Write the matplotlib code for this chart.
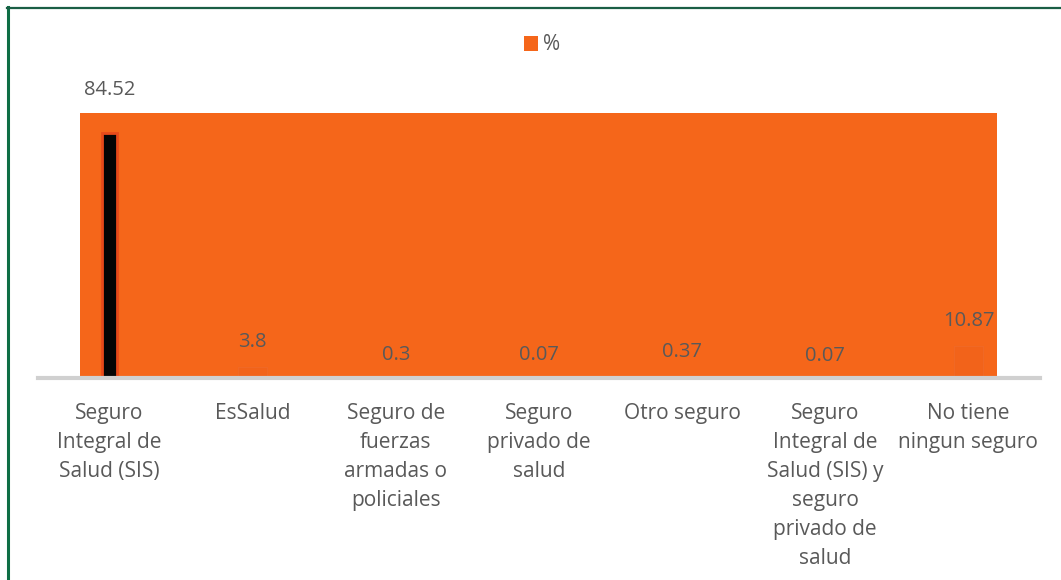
import matplotlib
matplotlib.use("Agg")
import matplotlib.pyplot as plt
from matplotlib.patches import Rectangle, Patch
from matplotlib.lines import Line2D

categories = [
    "Seguro\nIntegral de\nSalud (SIS)",
    "EsSalud",
    "Seguro de\nfuerzas\narmadas o\npoliciales",
    "Seguro\nprivado de\nsalud",
    "Otro seguro",
    "Seguro\nIntegral de\nSalud (SIS) y\nseguro\nprivado de\nsalud",
    "No tiene\nningun seguro",
]
values = [84.52, 3.8, 0.3, 0.07, 0.37, 0.07, 10.87]
value_labels = ["84.52", "3.8", "0.3", "0.07", "0.37", "0.07", "10.87"]
label_offsets_px = [43, 25, 22, 23, 25, 22, 25]

ORANGE = "#F5661A"
GRAY = "#595959"

plt.rcParams['font.family'] = ['Open Sans', 'DejaVu Sans']

fig = plt.figure(figsize=(10.61, 5.80), dpi=100)
W, H = 1061, 580
ax = fig.add_axes([38 / W, 1 - 378 / H, (1040 - 38) / W, (378 - 20) / H])

x = list(range(len(categories)))
ax.set_xlim(-0.5, len(categories) - 0.5)
ax.set_ylim(0, 123.4)

# orange plot-area block
ax.add_patch(Rectangle((0.042, 0.0), 0.915, 0.74, transform=ax.transAxes,
                       facecolor=ORANGE, edgecolor='none', zorder=0))

colors = ["#050505"] + ["#F2631A"] * (len(values) - 1)
widths = [0.105] + [0.2] * (len(values) - 1)
for xi, v, c, w in zip(x, values, colors, widths):
    if xi == 0:
        ax.bar(xi, v, width=w, color=c, edgecolor="#E84A1A", linewidth=2, zorder=2)
    else:
        ax.bar(xi, v, width=w, color=c, edgecolor="#F06A28", linewidth=0.8, zorder=1, alpha=0.8)

for xi, v, lab, off in zip(x, values, value_labels, label_offsets_px):
    ax.annotate(lab, (xi, v), xytext=(0, off), textcoords='offset pixels',
                ha='center', va='center', fontsize=14.5, color=GRAY, zorder=3)

ax.set_xticks(x)
ax.set_xticklabels(categories, fontsize=15, color=GRAY, linespacing=1.5, va='top')
ax.tick_params(axis='x', length=0, pad=18)
ax.set_yticks([])
for s in ['top', 'right', 'left']:
    ax.spines[s].set_visible(False)
ax.spines['bottom'].set_color('#D0D0D0')
ax.spines['bottom'].set_linewidth(3)
ax.patch.set_alpha(0)

# legend
handle = Patch(facecolor=ORANGE, edgecolor='none')
fig.legend([handle], ['%'], loc='center', bbox_to_anchor=(542 / W, 1 - 45 / H),
           frameon=False, fontsize=15, labelcolor=GRAY, handlelength=0.7,
           handleheight=0.7, handletextpad=0.25)

# green frame lines
fig.add_artist(Line2D([7.5 / W, 7.5 / W], [0, 1 - 7 / H], color='#0E6E45', linewidth=2.2,
                      transform=fig.transFigure))
fig.add_artist(Line2D([7 / W, 1], [1 - 7.5 / H, 1 - 7.5 / H], color='#1A5E45', linewidth=1.6,
                      transform=fig.transFigure))

fig.savefig("out.png", dpi=100, facecolor='white')
